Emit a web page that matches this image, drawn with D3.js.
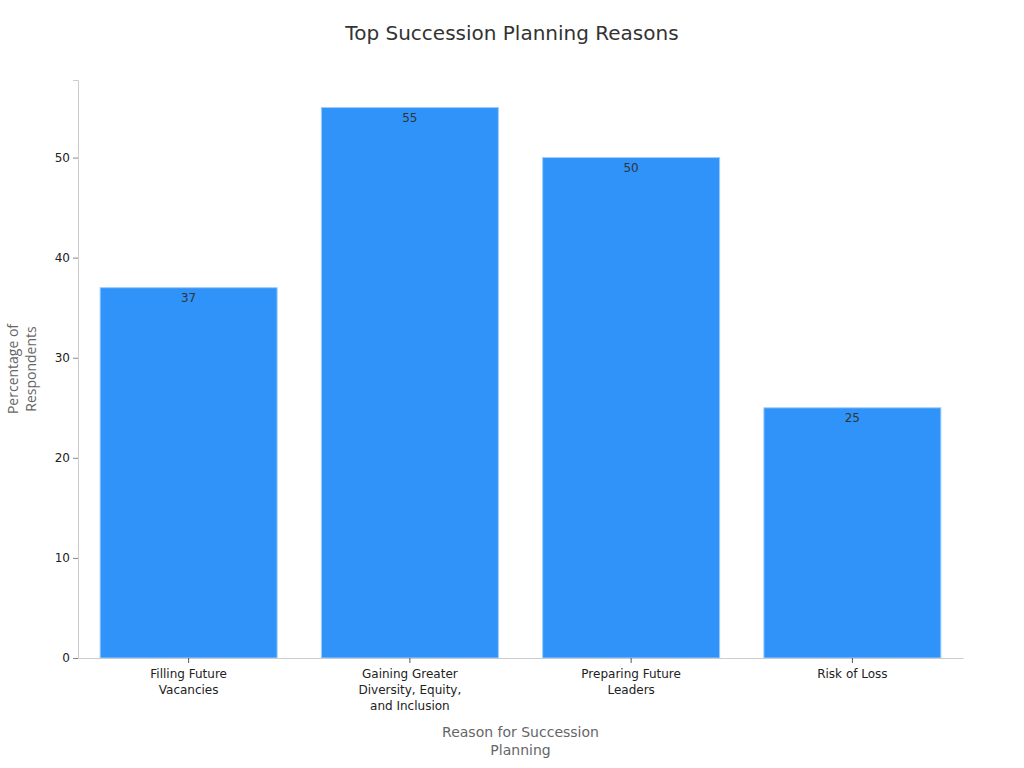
<!DOCTYPE html>
<html><head><meta charset="utf-8">
<script src="https://cdn.jsdelivr.net/npm/d3@7"></script>
<style>body{margin:0;background:#fff;} svg{display:block;}</style>
</head><body>
<svg id="chart" width="1024" height="768"></svg>
<script>
const categories = [
  ["Filling Future", "Vacancies"],
  ["Gaining Greater", "Diversity, Equity,", "and Inclusion"],
  ["Preparing Future", "Leaders"],
  ["Risk of Loss"]
];
const values = [37, 55, 50, 25];
const yTicks = [0, 10, 20, 30, 40, 50];
const title = "Top Succession Planning Reasons";
const xTitle = ["Reason for Succession", "Planning"];
const yTitle = ["Percentage of", "Respondents"];

const svg = d3.select("#chart");
const m = {left: 78, right: 963, top: 80, bottom: 658};
const font = "DejaVu Sans, sans-serif";

const keys = categories.map((c, i) => i);
const x = d3.scaleBand().domain(keys).range([m.left, m.right]).paddingInner(0.2).paddingOuter(0.1);
const y = d3.scaleLinear().domain([0, d3.max(values) * 1.05]).range([m.bottom, m.top]);

svg.append("text").attr("x", 512).attr("y", 40).attr("text-anchor", "middle")
  .style("font-family", font).style("font-size", "20px").attr("fill", "#333").text(title);

// bars
svg.append("g").selectAll("rect").data(values).join("rect")
  .attr("x", (d, i) => x(i)).attr("y", d => y(d))
  .attr("width", x.bandwidth()).attr("height", d => y(0) - y(d))
  .attr("fill", "#2F93F9").attr("stroke", "#9ccdfc").attr("stroke-width", 1);

svg.append("g").selectAll("text").data(values).join("text")
  .attr("x", (d, i) => x(i) + x.bandwidth() / 2).attr("y", d => y(d) + 14)
  .attr("text-anchor", "middle").style("font-family", font).style("font-size", "12px")
  .attr("fill", "#333").text(d => d);

// y axis
const yAxis = svg.append("g").attr("transform", `translate(${m.left},0)`)
  .call(d3.axisLeft(y).tickValues(yTicks).tickSize(5).tickPadding(3));
yAxis.select(".domain").attr("stroke", "#ccc");
yAxis.selectAll(".tick line").attr("stroke", "#888");
yAxis.selectAll(".tick text").style("font-family", font).style("font-size", "12px").attr("fill", "#222");

// x axis
const xAxis = svg.append("g").attr("transform", `translate(0,${m.bottom})`)
  .call(d3.axisBottom(x).tickSize(5).tickPadding(4).tickSizeOuter(0).tickFormat(""));
xAxis.select(".domain").attr("stroke", "#ccc");
xAxis.selectAll(".tick line").attr("stroke", "#555");
xAxis.selectAll(".tick").each(function(d) {
  const t = d3.select(this).append("text").attr("text-anchor", "middle")
    .style("font-family", font).style("font-size", "12px").attr("fill", "#222");
  categories[d].forEach((line, j) => {
    t.append("tspan").attr("x", 0).attr("y", 20 + j * 16).text(line);
  });
});

// axis titles
const xt = svg.append("text").attr("text-anchor", "middle")
  .style("font-family", font).style("font-size", "14px").attr("fill", "#666");
xTitle.forEach((l, j) => xt.append("tspan").attr("x", (m.left + m.right) / 2).attr("y", 737 + j * 18).text(l));

const ytg = svg.append("g").attr("transform", `translate(0,${(m.top + m.bottom) / 2}) rotate(-90)`);
const yt = ytg.append("text").attr("text-anchor", "middle")
  .style("font-family", "Open Sans, sans-serif").style("font-size", "14px").attr("fill", "#666");
yTitle.forEach((l, j) => yt.append("tspan").attr("x", 0).attr("y", 18 + j * 18).text(l));
</script>
</body></html>
